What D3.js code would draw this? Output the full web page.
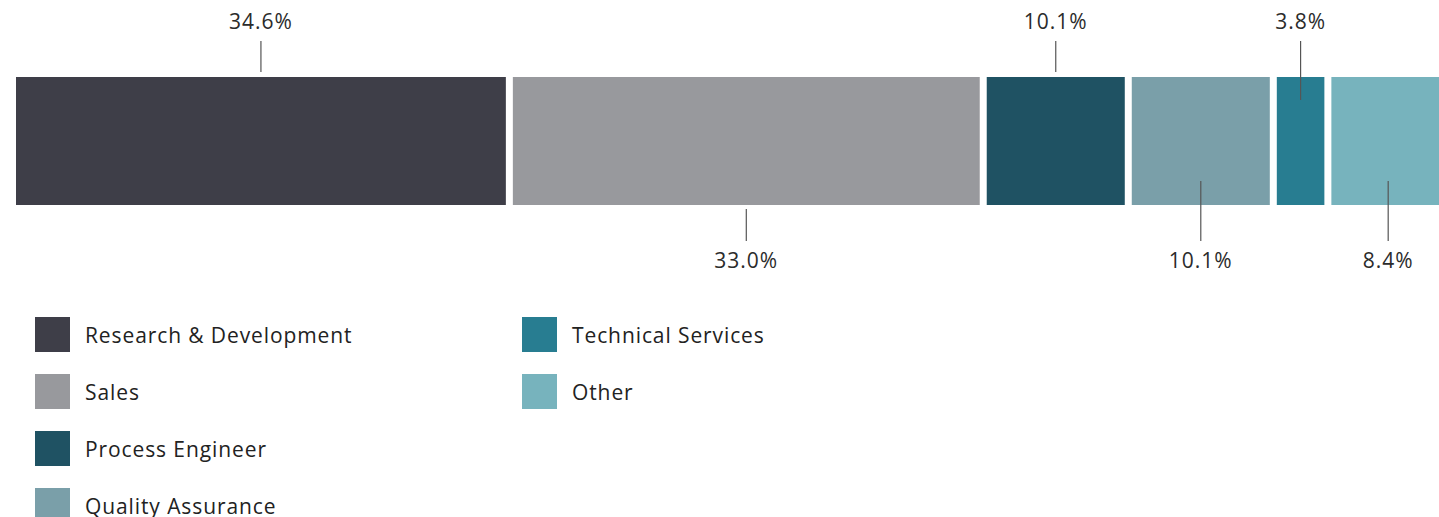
<!DOCTYPE html>
<html>
<head>
<meta charset="utf-8">
<script src="https://cdn.jsdelivr.net/npm/d3@7"></script>
<style>
  html, body { margin: 0; padding: 0; background: #fff; }
  svg { display: block; font-family: "Open Sans", sans-serif; }
</style>
</head>
<body>
<svg id="chart" width="1439" height="517"></svg>
<script>
// Share of roles (percent), left to right across the stacked bar
const categories = ["Research & Development", "Sales", "Process Engineer", "Quality Assurance", "Technical Services", "Other"];
const shares = [34.6, 33.0, 10.1, 10.1, 3.8, 8.4];
const colors = ["#3e3e48", "#98999d", "#1f5263", "#7a9fa9", "#287d91", "#77b3bd"];
// Which side of the bar each value label sits on
const labelSide = ["above", "below", "above", "below", "above", "below"];
// Leaders that reach into their segment instead of stopping at its edge
const innerLeader = [false, false, false, true, true, true];

const svg = d3.select("#chart");
const gap = 7;
const barTop = 77, barHeight = 128;

let cum = 0;
const segs = shares.map((v, i) => {
  const s = { name: categories[i], value: v, start: cum, end: cum + v, color: colors[i],
              side: labelSide[i], inner: innerLeader[i] };
  cum += v;
  return s;
});

const x = d3.scaleLinear().domain([0, 100]).range([16, 1452]);

const bar = svg.append("g");
bar.selectAll("rect")
  .data(segs)
  .join("rect")
  .attr("x", d => x(d.start))
  .attr("y", barTop)
  .attr("width", d => x(d.end) - x(d.start) - gap)
  .attr("height", barHeight)
  .attr("fill", d => d.color);

// Leader lines and value labels
const cx = d => (x(d.start) + x(d.end) - gap) / 2;
const fmt = d3.format(".1f");

const labels = svg.append("g");
labels.selectAll("line")
  .data(segs)
  .join("line")
  .attr("x1", cx).attr("x2", cx)
  .attr("y1", d => d.side === "above" ? 41 : (d.inner ? 181 : 209))
  .attr("y2", d => d.side === "above" ? (d.inner ? 100 : 72) : 241)
  .attr("stroke", "#555")
  .attr("stroke-width", 1.2);

labels.selectAll("text")
  .data(segs)
  .join("text")
  .attr("x", cx)
  .attr("y", d => d.side === "above" ? 29 : 268)
  .attr("text-anchor", "middle")
  .attr("font-size", 21)
  .attr("letter-spacing", "1px")
  .attr("fill", "#2b2b2b")
  .text(d => fmt(d.value) + "%");

// Legend in two columns
const legend = svg.append("g");
const items = legend.selectAll("g")
  .data(segs)
  .join("g")
  .attr("transform", (d, i) => {
    const col = i < 4 ? 0 : 1;
    const row = i < 4 ? i : i - 4;
    return `translate(${col === 0 ? 35 : 522},${317 + row * 57})`;
  });
items.append("rect")
  .attr("width", 35).attr("height", 35)
  .attr("fill", d => d.color);
items.append("text")
  .attr("x", 50).attr("y", 26)
  .attr("font-size", 21)
  .attr("letter-spacing", "0.9px")
  .attr("fill", "#222")
  .text(d => d.name);
</script>
</body>
</html>
